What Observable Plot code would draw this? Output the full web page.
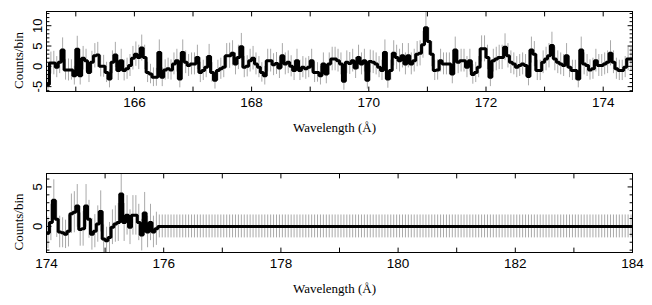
<!DOCTYPE html>
<html><head><meta charset="utf-8">
<script src="https://cdn.jsdelivr.net/npm/d3@7"></script>
<script src="https://cdn.jsdelivr.net/npm/@observablehq/plot@0.6"></script>
<style>
html,body{margin:0;padding:0;background:#fff;}
#chart svg{display:block;}
</style></head><body><div id="chart"></div>
<script>
// ---------- data ----------
const binWidth = 0.05;           // Å per bin
const topStart = 164.5;          // first bin edge, top panel
const topCounts = [
 -4.5, 0.8, 0.8, -0.2, 1, 4, -0.9, -0.9, -0.9, -2.3, 4.2, -2.3, 2, 1.4, -1.5, 1, 2.6, 2.8, 0, 0,
 -1.5, -3.1, 1, 2.8, -1, 1.4, -1, -0.6, 0.2, 2, 3, 2.2, 4.5, 2.2, -1.5, -1.9, -2.7, -2.7, 3.4, -2.7,
 -0.9, -0.6, -0.9, 0.6, 1.4, -3.1, 3.4, 1, 0.2, 0.6,
 0.6, 2.2, -1.5, -1, -0.2, 2.4, -1.5, -3.4, -1, -0.6, -0.2, 2.6, 2.6, 3.2, 0.6, 2.2, 4.8, -0.2, 0, 1.4,
 2, 0.6, -0.2, -1.5, -2.3, 1.4, 1.4, 0.4, 0.7, -0.4, 2.6, 0.6, 1, 0, -1, 1.4, -1, -0.2, -0.6, -0.2,
 1.4, -1.5, -1.5, -2.3, 0.6, -1.9, 0.6, 1.8, 1.8, 1.4,
 0.6, -3.7, 1, 0.7, 1.4, -0.4, 2.2, 0.6, 1.4, -3.4, 1.2, 1, 0.6, -0.2, -1, 3.4, -3.1, -1, 3.2, 2.2,
 1.4, 2.6, 0.6, 2.6, 0.6, 1.4, 3, 3.2, 5.3, 9.5, 6.1, 3, -1, -0.9, 1.4, 0.6, 0.6, 0.6, -1.9, 4,
 1, 1.4, 1.4, -0.2, 1.4, -2, -1.5, -0.2, 4.3, 4.3,
 2.2, -2.7, 1.4, 1.8, 2.2, 2.2, 4.7, 2.6, 1, 0.6, -0.2, 0.2, 0.6, 0.2, -2.5, 4, 3, -1, -1, 1,
 1.8, 2.6, 5.1, 1.8, 1, 0.6, 0.2, 2.6, -0.2, -1, -1, -3.1, 4, 0.6, 0.2, -0.9, -0.6, 1.4, 0.2, 0.2,
 0.6, 1, 3.2, 1, -0.6, -1, -1, -0.2, 1.8, 1.8
];
const topErrors = [
 2.4, 2.7, 2.9, 2.6, 2.8, 3.0, 2.5, 2.7, 2.5, 2.3, 3.2, 2.3, 2.9, 2.8, 2.5, 2.7, 3.0, 3.1, 2.6, 2.7,
 2.5, 2.2, 2.8, 3.1, 2.5, 2.8, 2.6, 2.6, 2.7, 2.9, 3.0, 3.0, 3.2, 3.0, 2.5, 2.4, 2.3, 2.2, 3.1, 2.3,
 2.5, 2.6, 2.5, 2.7, 2.8, 2.2, 3.1, 2.8, 2.7, 2.7,
 2.7, 3.0, 2.5, 2.5, 2.6, 3.0, 2.4, 2.2, 2.5, 2.6, 2.6, 3.0, 3.1, 3.1, 2.7, 3.0, 3.3, 2.6, 2.6, 2.8,
 2.9, 2.7, 2.6, 2.4, 2.3, 2.8, 2.8, 2.7, 2.7, 2.6, 3.0, 2.7, 2.8, 2.6, 2.5, 2.8, 2.5, 2.6, 2.6, 2.6,
 2.8, 2.5, 2.4, 2.3, 2.7, 2.4, 2.7, 2.9, 2.9, 2.8,
 2.7, 2.2, 2.8, 2.7, 2.8, 2.6, 3.0, 2.7, 2.8, 2.2, 2.8, 2.8, 2.7, 2.6, 2.5, 3.1, 2.3, 2.5, 3.1, 3.0,
 2.8, 3.0, 2.7, 3.0, 2.7, 2.8, 3.1, 3.1, 3.3, 3.8, 3.4, 3.1, 2.5, 2.5, 2.8, 2.7, 2.7, 2.7, 2.4, 3.2,
 2.8, 2.8, 2.8, 2.6, 2.8, 2.4, 2.5, 2.6, 3.2, 3.2,
 3.0, 2.3, 2.8, 2.9, 3.0, 3.0, 3.3, 3.0, 2.8, 2.7, 2.6, 2.7, 2.7, 2.7, 2.3, 3.2, 3.1, 2.5, 2.5, 2.8,
 2.9, 3.0, 3.3, 2.9, 2.8, 2.7, 2.7, 3.0, 2.6, 2.5, 2.5, 2.2, 3.2, 2.7, 2.7, 2.5, 2.6, 2.8, 2.7, 2.7,
 2.7, 2.8, 3.1, 2.8, 2.6, 2.5, 2.5, 2.6, 2.9, 2.9
];
const bottomStart = 174.0;       // first bin edge, bottom panel
const bottomCounts = [
 -0.8, 0.5, 3.3, 0.9, -0.7, -0.8, -1.0, -0.6, 1.6, 1.8, 2.6, -0.4, -0.3, 2.6, 0.9, -1, -0.6, 0.3, 1.9, -1.6,
 -1.8, -1.4, -0.1, 0.3, 0.5, 4.1, 0.5, 1.4, -0.1, 1.4, 1.4, 0.5, -1.1, 1.7, -0.7, 0.5, -0.7, -0.3, 0,
 0,0,0,0,0,0,0,0,0,0,0,0,0,0,0,0,0,0,0,0,
 0,0,0,0,0,0,0,0,0,0,0,0,0,0,0,0,0,0,0,0,
 0,0,0,0,0,0,0,0,0,0,0,0,0,0,0,0,0,0,0,0,
 0,0,0,0,0,0,0,0,0,0,0,0,0,0,0,0,0,0,0,0,
 0,0,0,0,0,0,0,0,0,0,0,0,0,0,0,0,0,0,0,0,
 0,0,0,0,0,0,0,0,0,0,0,0,0,0,0,0,0,0,0,0,
 0,0,0,0,0,0,0,0,0,0,0,0,0,0,0,0,0,0,0,0,
 0,0,0,0,0,0,0,0,0,0,0,0,0,0,0,0,0,0,0,0,
 0
];
const bottomErrors = [
 2.0, 2.3, 2.6, 2.3, 2.0, 1.9, 1.8, 2.0, 2.5, 2.6, 2.7, 2.1, 2.2, 2.7, 2.4, 2.0, 2.1, 2.3, 2.6, 1.8,
 1.7, 1.9, 2.2, 2.3, 2.4, 2.9, 2.4, 2.5, 2.2, 2.5, 2.5, 2.3, 2.0, 2.6, 2.0, 2.3, 2.0, 2.1, 1.45,
 1.45,1.45,1.45,1.45,1.45,1.45,1.45,1.45,1.45,1.45,1.45,1.45,1.45,1.45,1.45,1.45,1.45,1.45,1.45,1.45,
 1.45,1.45,1.45,1.45,1.45,1.45,1.45,1.45,1.45,1.45,1.45,1.45,1.45,1.45,1.45,1.45,1.45,1.45,1.45,1.45,
 1.45,1.45,1.45,1.45,1.45,1.45,1.45,1.45,1.45,1.45,1.45,1.45,1.45,1.45,1.45,1.45,1.45,1.45,1.45,1.45,
 1.45,1.45,1.45,1.45,1.45,1.45,1.45,1.45,1.45,1.45,1.45,1.45,1.45,1.45,1.45,1.45,1.45,1.45,1.45,1.45,
 1.45,1.45,1.45,1.45,1.45,1.45,1.45,1.45,1.45,1.45,1.45,1.45,1.45,1.45,1.45,1.45,1.45,1.45,1.45,1.45,
 1.45,1.45,1.45,1.45,1.45,1.45,1.45,1.45,1.45,1.45,1.45,1.45,1.45,1.45,1.45,1.45,1.45,1.45,1.45,1.45,
 1.45,1.45,1.45,1.45,1.45,1.45,1.45,1.45,1.45,1.45,1.45,1.45,1.45,1.45,1.45,1.45,1.45,1.45,1.45,1.45,
 1.45,1.45,1.45,1.45,1.45,1.45,1.45,1.45,1.45,1.45,1.45,1.45,1.45,1.45,1.45,1.45,1.45,1.45,1.45,1.45,
 1.45
];
const topXTickLabels = [166, 168, 170, 172, 174];
const topYTickLabels = [-5, 0, 5, 10];
const bottomXTickLabels = [174, 176, 178, 180, 182, 184];
const bottomYTickLabels = [0, 5];
const xTitle = "Wavelength (Å)";
const yTitle = "Counts/bin";

// ---------- drawing ----------
const sans = "'Liberation Sans', Arial, Helvetica, sans-serif";
const serif = "'Liberation Serif', 'Times New Roman', serif";
const tickShape = {draw(ctx, l) { ctx.moveTo(0, 0); ctx.lineTo(0, -l); }};

function makeBins(start, counts, errs) {
  return counts.map((v, i) => ({
    x0: start + i * binWidth,
    xc: start + (i + 0.5) * binWidth,
    v, e: errs[i]
  }));
}

function panel({bins, xDomain, yDomain, xLabels, yLabels, yMajorStep, height, marginTop, marginBottom}) {
  const last = bins[bins.length - 1];
  const stepPts = bins.map(b => ({x: b.x0, v: b.v})).concat([{x: last.x0 + binWidth, v: last.v}]);
  const xMajor = d3.range(Math.ceil(xDomain[0]), Math.floor(xDomain[1]) + 1);
  const yAll = d3.range(Math.ceil(yDomain[0]), Math.floor(yDomain[1]) + 1);
  const yMajor = yAll.filter(d => d % yMajorStep === 0);
  const yMinor = yAll.filter(d => d % yMajorStep !== 0);
  const tk = (data, o) => Plot.vector(data, {anchor: "start", shape: tickShape, stroke: "black", strokeWidth: 1, ...o});
  return Plot.plot({
    width: 652, height,
    marginLeft: 46, marginRight: 20, marginTop, marginBottom,
    style: {background: "white", fontFamily: sans, overflow: "visible"},
    x: {domain: xDomain, axis: null},
    y: {domain: yDomain, axis: null},
    marks: [
      Plot.ruleX(bins, {x: "xc", y1: d => d.v - d.e, y2: d => d.v + d.e, stroke: "#a9a9a9", strokeWidth: 1, clip: true}),
      Plot.line(stepPts, {x: "x", y: "v", curve: "step-after", stroke: "black", strokeWidth: 3, strokeLinejoin: "miter", clip: true}),
      Plot.frame({stroke: "black", strokeWidth: 1}),
      // inward ticks
      tk(xMajor, {x: d => d, frameAnchor: "bottom", length: 4.5, rotate: 0}),
      tk(xMajor, {x: d => d, frameAnchor: "top", length: 4.5, rotate: 180}),
      tk(yMajor, {y: d => d, frameAnchor: "left", length: 4.5, rotate: 90}),
      tk(yMajor, {y: d => d, frameAnchor: "right", length: 4.5, rotate: -90}),
      tk(yMinor, {y: d => d, frameAnchor: "left", length: 2.5, rotate: 90}),
      tk(yMinor, {y: d => d, frameAnchor: "right", length: 2.5, rotate: -90}),
      // tick labels
      Plot.text(xLabels, {x: d => d, frameAnchor: "bottom", dy: 11, textAnchor: "middle", lineAnchor: "middle", text: d => String(d), fontSize: 13.5, fontFamily: sans, fill: "black"}),
      Plot.text(yLabels, {y: d => d, frameAnchor: "left", dx: -9, rotate: -90, textAnchor: "middle", lineAnchor: "middle", text: d => (d < 0 ? "-" + Math.abs(d) : String(d)), fontSize: 13, fontFamily: sans, fill: "black"}),
      // titles
      Plot.text([xTitle], {frameAnchor: "bottom", dy: 36, dx: -5, textAnchor: "middle", lineAnchor: "middle", text: d => d, fontSize: 13, fontFamily: serif, fill: "black"}),
      Plot.text([yTitle], {frameAnchor: "left", dx: -28, dy: 9, rotate: -90, textAnchor: "middle", lineAnchor: "middle", text: d => d, fontSize: 13, fontFamily: serif, fill: "black"})
    ]
  });
}

const chart = document.getElementById("chart");
chart.append(panel({
  bins: makeBins(topStart, topCounts, topErrors),
  xDomain: [164.5, 174.5], yDomain: [-6.2, 13.5],
  xLabels: topXTickLabels, yLabels: topYTickLabels, yMajorStep: 5,
  height: 140, marginTop: 11, marginBottom: 49
}));
chart.append(panel({
  bins: makeBins(bottomStart, bottomCounts, bottomErrors),
  xDomain: [174, 184], yDomain: [-3.3, 6.7],
  xLabels: bottomXTickLabels, yLabels: bottomYTickLabels, yMajorStep: 5,
  height: 165, marginTop: 33, marginBottom: 53
}));
</script></body></html>
